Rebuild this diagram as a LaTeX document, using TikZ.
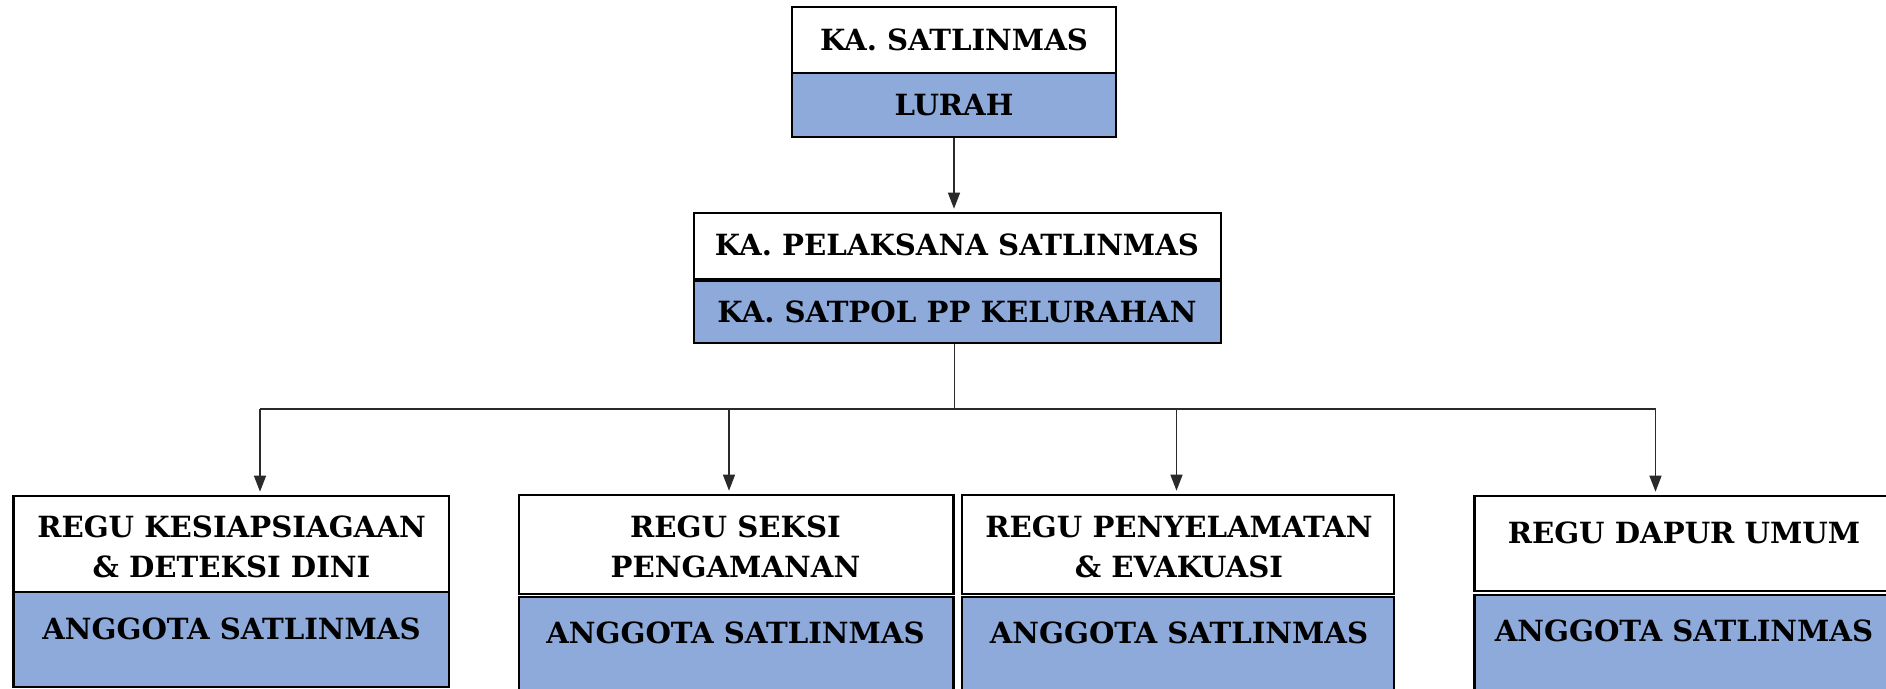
\documentclass[tikz,border=0pt]{standalone}
\usepackage{fontspec}
\setmainfont{DejaVu Serif}
\usetikzlibrary{arrows.meta,calc,fit}
\definecolor{boxblue}{HTML}{8EAADB}
\definecolor{linegray}{HTML}{2A2A2A}
\begin{document}
\begin{tikzpicture}[x=0.5pt,y=-0.5pt,
  wbox/.style={draw=black,line width=1.3pt,fill=white,inner sep=0pt},
  bbox/.style={draw=black,line width=1.3pt,fill=boxblue,inner sep=0pt},
  lbl/.style={font=\bfseries\fontsize{14.6}{20}\selectfont,inner sep=0pt,text height=10.6pt,text depth=0pt},
  conn/.style={draw=linegray,line width=0.65pt},
  arr/.style={conn,-{Triangle[length=8pt,width=6pt]},shorten >=1.5pt}]
\clip (0,0) rectangle (1886,689);
\fill[white] (0,0) rectangle (1886,689);
% top
\node[wbox,fit={(792,7)(1116,73)}] (kasat) {};
\node[bbox,fit={(792,73)(1116,137)}] (lurah) {};
\node[lbl] (kasatT) at (954,40) {KA. SATLINMAS};
\node[lbl] (lurahT) at (954,105) {LURAH};
% second
\node[wbox,fit={(694,213)(1221,279)}] (pel) {};
\node[bbox,fit={(694,281)(1221,343)}] (satpol) {};
\node[lbl] (pelT) at (957,245) {KA. PELAKSANA SATLINMAS};
\node[lbl] (satpolT) at (957,312) {KA. SATPOL PP KELURAHAN};
% bottom boxes
\node[wbox,fit={(13.5,496)(449,592)}] (r1) {};
\node[bbox,fit={(13.5,592)(449,687)}] (a1) {};
\node[wbox,fit={(519,495)(953.5,594)}] (r2) {};
\node[bbox,fit={(519,597)(953.5,700)}] (a2) {};
\node[wbox,fit={(962,495)(1394,594)}] (r3) {};
\node[bbox,fit={(962,597)(1394,700)}] (a3) {};
\node[wbox,fit={(1474.5,496)(1894,591)}] (r4) {};
\node[bbox,fit={(1474.5,595)(1894,700)}] (a4) {};
% texts
\node[lbl] (r1a) at (231.5,526.7) {REGU KESIAPSIAGAAN};
\node[lbl] (r1b) at (231.5,566.7) {\& DETEKSI DINI};
\node[lbl] (a1T) at (231.5,629) {ANGGOTA SATLINMAS};
\node[lbl] (r2a) at (735.5,526.7) {REGU SEKSI};
\node[lbl] (r2b) at (735.5,566.7) {PENGAMANAN};
\node[lbl] (a2T) at (735.5,633) {ANGGOTA SATLINMAS};
\node[lbl] (r3a) at (1179,526.7) {REGU PENYELAMATAN};
\node[lbl] (r3b) at (1179,566.7) {\& EVAKUASI};
\node[lbl] (a3T) at (1179,633) {ANGGOTA SATLINMAS};
\node[lbl] (r4a) at (1684,532.7) {REGU DAPUR UMUM};
\node[lbl] (a4T) at (1684,630.7) {ANGGOTA SATLINMAS};
% connectors
\coordinate (hub) at (954.5,409);
\coordinate (b1) at (260,409);
\coordinate (b2) at (729,409);
\coordinate (b3) at (1176.5,409);
\coordinate (b4) at (1655.5,409);
\draw[arr] (lurah.south) -- (lurah.south |- pel.north);
\draw[conn] (satpol.south -| hub) -- (hub);
\draw[conn] (b1) -- (b4);
\draw[arr] (b1) -- (b1 |- r1.north);
\draw[arr] (b2) -- (b2 |- r2.north);
\draw[arr] (b3) -- (b3 |- r3.north);
\draw[arr] (b4) -- (b4 |- r4.north);
\end{tikzpicture}
\end{document}
